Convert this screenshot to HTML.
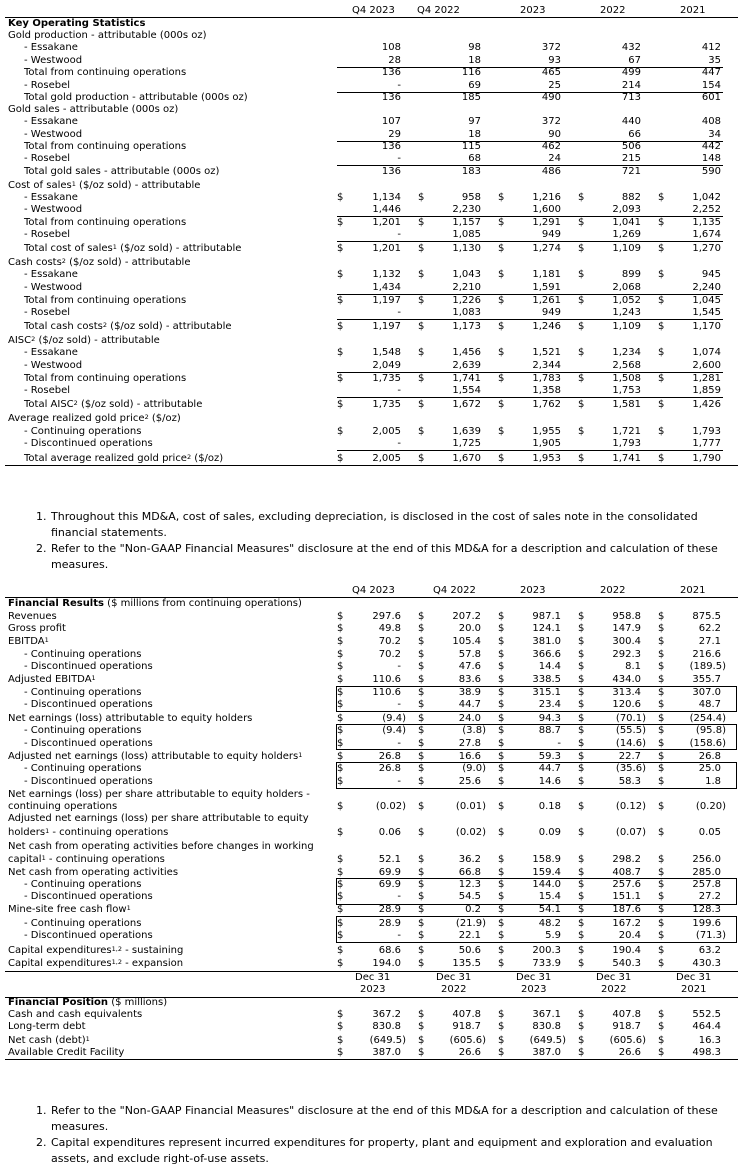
<!DOCTYPE html>
<html><head><meta charset="utf-8"><style>
body{margin:0;width:753px;height:1172px;background:#fff;position:relative;font-family:"DejaVu Sans",Verdana,sans-serif;font-size:10px;color:#000;overflow:hidden}
.r{position:absolute;left:0;width:753px;height:12px;line-height:12px}
.r span{position:absolute;white-space:nowrap}
.l{left:8px}.i{left:24px}
.a{left:337px}.b{left:418px}.c{left:498px}.d{left:578px}.e{left:658px}
.v1{right:352px}.v2{right:272px}.v3{right:192px}.v4{right:112px}.v5{right:32px}
.n{margin-right:-5px}
.h{position:absolute;height:1px;background:#000}
.bx{position:absolute;border:1px solid #000;left:336px;width:399px}
sup{font-size:6.5px;vertical-align:top;line-height:8px}
b{font-weight:bold}
.fn{position:absolute;left:36px;font-size:11px;line-height:16px;width:690px}
.fn div{position:relative;padding-left:15px}
.fn div span{position:absolute;left:0}
</style></head><body>

<div class="r" style="top:5px"><span style="left:352px">Q4 2023</span><span style="left:417px">Q4 2022</span><span style="left:520px">2023</span><span style="left:600px">2022</span><span style="left:680px">2021</span></div>
<div class="h" style="top:17px;left:5px;width:733px"></div>

<div class="r" style="top:18px"><span class="l"><b>Key Operating Statistics</b></span></div>
<div class="r" style="top:30px"><span class="l">Gold production - attributable (000s oz)</span></div>
<div class="r" style="top:42px"><span class="i">- Essakane</span><span class="v1">108</span><span class="v2">98</span><span class="v3">372</span><span class="v4">432</span><span class="v5">412</span></div>
<div class="r" style="top:55px"><span class="i">- Westwood</span><span class="v1">28</span><span class="v2">18</span><span class="v3">93</span><span class="v4">67</span><span class="v5">35</span></div>
<div class="h" style="top:67px;left:337px;width:386px"></div>
<div class="r" style="top:67px"><span class="i">Total from continuing operations</span><span class="v1">136</span><span class="v2">116</span><span class="v3">465</span><span class="v4">499</span><span class="v5">447</span></div>
<div class="r" style="top:80px"><span class="i">- Rosebel</span><span class="v1">-</span><span class="v2">69</span><span class="v3">25</span><span class="v4">214</span><span class="v5">154</span></div>
<div class="h" style="top:92px;left:337px;width:386px"></div>
<div class="r" style="top:92px"><span class="i">Total gold production - attributable (000s oz)</span><span class="v1">136</span><span class="v2">185</span><span class="v3">490</span><span class="v4">713</span><span class="v5">601</span></div>
<div class="r" style="top:104px"><span class="l">Gold sales - attributable (000s oz)</span></div>
<div class="r" style="top:116px"><span class="i">- Essakane</span><span class="v1">107</span><span class="v2">97</span><span class="v3">372</span><span class="v4">440</span><span class="v5">408</span></div>
<div class="r" style="top:129px"><span class="i">- Westwood</span><span class="v1">29</span><span class="v2">18</span><span class="v3">90</span><span class="v4">66</span><span class="v5">34</span></div>
<div class="h" style="top:141px;left:337px;width:386px"></div>
<div class="r" style="top:141px"><span class="i">Total from continuing operations</span><span class="v1">136</span><span class="v2">115</span><span class="v3">462</span><span class="v4">506</span><span class="v5">442</span></div>
<div class="r" style="top:153px"><span class="i">- Rosebel</span><span class="v1">-</span><span class="v2">68</span><span class="v3">24</span><span class="v4">215</span><span class="v5">148</span></div>
<div class="h" style="top:165px;left:337px;width:386px"></div>
<div class="r" style="top:166px"><span class="i">Total gold sales - attributable (000s oz)</span><span class="v1">136</span><span class="v2">183</span><span class="v3">486</span><span class="v4">721</span><span class="v5">590</span></div>
<div class="r" style="top:180px"><span class="l">Cost of sales<sup>1</sup> ($/oz sold) - attributable</span></div>
<div class="r" style="top:192px"><span class="i">- Essakane</span><span class="a">$</span><span class="v1">1,134</span><span class="b">$</span><span class="v2">958</span><span class="c">$</span><span class="v3">1,216</span><span class="d">$</span><span class="v4">882</span><span class="e">$</span><span class="v5">1,042</span></div>
<div class="r" style="top:204px"><span class="i">- Westwood</span><span class="v1">1,446</span><span class="v2">2,230</span><span class="v3">1,600</span><span class="v4">2,093</span><span class="v5">2,252</span></div>
<div class="h" style="top:216px;left:337px;width:386px"></div>
<div class="r" style="top:217px"><span class="i">Total from continuing operations</span><span class="a">$</span><span class="v1">1,201</span><span class="b">$</span><span class="v2">1,157</span><span class="c">$</span><span class="v3">1,291</span><span class="d">$</span><span class="v4">1,041</span><span class="e">$</span><span class="v5">1,135</span></div>
<div class="r" style="top:229px"><span class="i">- Rosebel</span><span class="v1">-</span><span class="v2">1,085</span><span class="v3">949</span><span class="v4">1,269</span><span class="v5">1,674</span></div>
<div class="h" style="top:241px;left:337px;width:386px"></div>
<div class="r" style="top:243px"><span class="i">Total cost of sales<sup>1</sup> ($/oz sold) - attributable</span><span class="a">$</span><span class="v1">1,201</span><span class="b">$</span><span class="v2">1,130</span><span class="c">$</span><span class="v3">1,274</span><span class="d">$</span><span class="v4">1,109</span><span class="e">$</span><span class="v5">1,270</span></div>
<div class="r" style="top:257px"><span class="l">Cash costs<sup>2</sup> ($/oz sold) - attributable</span></div>
<div class="r" style="top:269px"><span class="i">- Essakane</span><span class="a">$</span><span class="v1">1,132</span><span class="b">$</span><span class="v2">1,043</span><span class="c">$</span><span class="v3">1,181</span><span class="d">$</span><span class="v4">899</span><span class="e">$</span><span class="v5">945</span></div>
<div class="r" style="top:282px"><span class="i">- Westwood</span><span class="v1">1,434</span><span class="v2">2,210</span><span class="v3">1,591</span><span class="v4">2,068</span><span class="v5">2,240</span></div>
<div class="h" style="top:294px;left:337px;width:386px"></div>
<div class="r" style="top:295px"><span class="i">Total from continuing operations</span><span class="a">$</span><span class="v1">1,197</span><span class="b">$</span><span class="v2">1,226</span><span class="c">$</span><span class="v3">1,261</span><span class="d">$</span><span class="v4">1,052</span><span class="e">$</span><span class="v5">1,045</span></div>
<div class="r" style="top:307px"><span class="i">- Rosebel</span><span class="v1">-</span><span class="v2">1,083</span><span class="v3">949</span><span class="v4">1,243</span><span class="v5">1,545</span></div>
<div class="h" style="top:319px;left:337px;width:386px"></div>
<div class="r" style="top:321px"><span class="i">Total cash costs<sup>2</sup> ($/oz sold) - attributable</span><span class="a">$</span><span class="v1">1,197</span><span class="b">$</span><span class="v2">1,173</span><span class="c">$</span><span class="v3">1,246</span><span class="d">$</span><span class="v4">1,109</span><span class="e">$</span><span class="v5">1,170</span></div>
<div class="r" style="top:335px"><span class="l">AISC<sup>2</sup> ($/oz sold) - attributable</span></div>
<div class="r" style="top:347px"><span class="i">- Essakane</span><span class="a">$</span><span class="v1">1,548</span><span class="b">$</span><span class="v2">1,456</span><span class="c">$</span><span class="v3">1,521</span><span class="d">$</span><span class="v4">1,234</span><span class="e">$</span><span class="v5">1,074</span></div>
<div class="r" style="top:360px"><span class="i">- Westwood</span><span class="v1">2,049</span><span class="v2">2,639</span><span class="v3">2,344</span><span class="v4">2,568</span><span class="v5">2,600</span></div>
<div class="h" style="top:372px;left:337px;width:386px"></div>
<div class="r" style="top:373px"><span class="i">Total from continuing operations</span><span class="a">$</span><span class="v1">1,735</span><span class="b">$</span><span class="v2">1,741</span><span class="c">$</span><span class="v3">1,783</span><span class="d">$</span><span class="v4">1,508</span><span class="e">$</span><span class="v5">1,281</span></div>
<div class="r" style="top:385px"><span class="i">- Rosebel</span><span class="v1">-</span><span class="v2">1,554</span><span class="v3">1,358</span><span class="v4">1,753</span><span class="v5">1,859</span></div>
<div class="h" style="top:397px;left:337px;width:386px"></div>
<div class="r" style="top:399px"><span class="i">Total AISC<sup>2</sup> ($/oz sold) - attributable</span><span class="a">$</span><span class="v1">1,735</span><span class="b">$</span><span class="v2">1,672</span><span class="c">$</span><span class="v3">1,762</span><span class="d">$</span><span class="v4">1,581</span><span class="e">$</span><span class="v5">1,426</span></div>
<div class="r" style="top:413px"><span class="l">Average realized gold price<sup>2</sup> ($/oz)</span></div>
<div class="r" style="top:426px"><span class="i">- Continuing operations</span><span class="a">$</span><span class="v1">2,005</span><span class="b">$</span><span class="v2">1,639</span><span class="c">$</span><span class="v3">1,955</span><span class="d">$</span><span class="v4">1,721</span><span class="e">$</span><span class="v5">1,793</span></div>
<div class="r" style="top:438px"><span class="i">- Discontinued operations</span><span class="v1">-</span><span class="v2">1,725</span><span class="v3">1,905</span><span class="v4">1,793</span><span class="v5">1,777</span></div>
<div class="h" style="top:450px;left:337px;width:386px"></div>
<div class="r" style="top:453px"><span class="i">Total average realized gold price<sup>2</sup> ($/oz)</span><span class="a">$</span><span class="v1">2,005</span><span class="b">$</span><span class="v2">1,670</span><span class="c">$</span><span class="v3">1,953</span><span class="d">$</span><span class="v4">1,741</span><span class="e">$</span><span class="v5">1,790</span></div>
<div class="h" style="top:465px;left:5px;width:733px"></div>

<div class="fn" style="top:509px">
<div><span>1.</span>Throughout this MD&amp;A, cost of sales, excluding depreciation, is disclosed in the cost of sales note in the consolidated financial statements.</div>
<div><span>2.</span>Refer to the "Non-GAAP Financial Measures" disclosure at the end of this MD&amp;A for a description and calculation of these measures.</div>
</div>

<div class="r" style="top:585px"><span style="left:352px">Q4 2023</span><span style="left:433px">Q4 2022</span><span style="left:520px">2023</span><span style="left:600px">2022</span><span style="left:680px">2021</span></div>
<div class="h" style="top:597px;left:5px;width:733px"></div>
<div class="r" style="top:598px"><span class="l"><b>Financial Results</b> ($ millions from continuing operations)</span></div>
<div class="r" style="top:611px"><span class="l">Revenues</span><span class="a">$</span><span class="v1">297.6</span><span class="b">$</span><span class="v2">207.2</span><span class="c">$</span><span class="v3">987.1</span><span class="d">$</span><span class="v4">958.8</span><span class="e">$</span><span class="v5">875.5</span></div>
<div class="r" style="top:623px"><span class="l">Gross profit</span><span class="a">$</span><span class="v1">49.8</span><span class="b">$</span><span class="v2">20.0</span><span class="c">$</span><span class="v3">124.1</span><span class="d">$</span><span class="v4">147.9</span><span class="e">$</span><span class="v5">62.2</span></div>
<div class="r" style="top:636px"><span class="l">EBITDA<sup>1</sup></span><span class="a">$</span><span class="v1">70.2</span><span class="b">$</span><span class="v2">105.4</span><span class="c">$</span><span class="v3">381.0</span><span class="d">$</span><span class="v4">300.4</span><span class="e">$</span><span class="v5">27.1</span></div>
<div class="r" style="top:649px"><span class="i">- Continuing operations</span><span class="a">$</span><span class="v1">70.2</span><span class="b">$</span><span class="v2">57.8</span><span class="c">$</span><span class="v3">366.6</span><span class="d">$</span><span class="v4">292.3</span><span class="e">$</span><span class="v5">216.6</span></div>
<div class="r" style="top:661px"><span class="i">- Discontinued operations</span><span class="a">$</span><span class="v1">-</span><span class="b">$</span><span class="v2">47.6</span><span class="c">$</span><span class="v3">14.4</span><span class="d">$</span><span class="v4">8.1</span><span class="e">$</span><span class="v5 n">(189.5)</span></div>
<div class="r" style="top:674px"><span class="l">Adjusted EBITDA<sup>1</sup></span><span class="a">$</span><span class="v1">110.6</span><span class="b">$</span><span class="v2">83.6</span><span class="c">$</span><span class="v3">338.5</span><span class="d">$</span><span class="v4">434.0</span><span class="e">$</span><span class="v5">355.7</span></div>
<div class="bx" style="top:686px;height:24px"></div>
<div class="r" style="top:687px"><span class="i">- Continuing operations</span><span class="a">$</span><span class="v1">110.6</span><span class="b">$</span><span class="v2">38.9</span><span class="c">$</span><span class="v3">315.1</span><span class="d">$</span><span class="v4">313.4</span><span class="e">$</span><span class="v5">307.0</span></div>
<div class="r" style="top:699px"><span class="i">- Discontinued operations</span><span class="a">$</span><span class="v1">-</span><span class="b">$</span><span class="v2">44.7</span><span class="c">$</span><span class="v3">23.4</span><span class="d">$</span><span class="v4">120.6</span><span class="e">$</span><span class="v5">48.7</span></div>
<div class="r" style="top:713px"><span class="l">Net earnings (loss) attributable to equity holders</span><span class="a">$</span><span class="v1 n">(9.4)</span><span class="b">$</span><span class="v2">24.0</span><span class="c">$</span><span class="v3">94.3</span><span class="d">$</span><span class="v4 n">(70.1)</span><span class="e">$</span><span class="v5 n">(254.4)</span></div>
<div class="bx" style="top:724px;height:24px"></div>
<div class="r" style="top:725px"><span class="i">- Continuing operations</span><span class="a">$</span><span class="v1 n">(9.4)</span><span class="b">$</span><span class="v2 n">(3.8)</span><span class="c">$</span><span class="v3">88.7</span><span class="d">$</span><span class="v4 n">(55.5)</span><span class="e">$</span><span class="v5 n">(95.8)</span></div>
<div class="r" style="top:738px"><span class="i">- Discontinued operations</span><span class="a">$</span><span class="v1">-</span><span class="b">$</span><span class="v2">27.8</span><span class="c">$</span><span class="v3">-</span><span class="d">$</span><span class="v4 n">(14.6)</span><span class="e">$</span><span class="v5 n">(158.6)</span></div>
<div class="r" style="top:751px"><span class="l">Adjusted net earnings (loss) attributable to equity holders<sup>1</sup></span><span class="a">$</span><span class="v1">26.8</span><span class="b">$</span><span class="v2">16.6</span><span class="c">$</span><span class="v3">59.3</span><span class="d">$</span><span class="v4">22.7</span><span class="e">$</span><span class="v5">26.8</span></div>
<div class="bx" style="top:762px;height:25px"></div>
<div class="r" style="top:763px"><span class="i">- Continuing operations</span><span class="a">$</span><span class="v1">26.8</span><span class="b">$</span><span class="v2 n">(9.0)</span><span class="c">$</span><span class="v3">44.7</span><span class="d">$</span><span class="v4 n">(35.6)</span><span class="e">$</span><span class="v5">25.0</span></div>
<div class="r" style="top:776px"><span class="i">- Discontinued operations</span><span class="a">$</span><span class="v1">-</span><span class="b">$</span><span class="v2">25.6</span><span class="c">$</span><span class="v3">14.6</span><span class="d">$</span><span class="v4">58.3</span><span class="e">$</span><span class="v5">1.8</span></div>
<div class="r" style="top:789px"><span class="l">Net earnings (loss) per share attributable to equity holders -</span></div>
<div class="r" style="top:801px"><span class="l">continuing operations</span><span class="a">$</span><span class="v1 n">(0.02)</span><span class="b">$</span><span class="v2 n">(0.01)</span><span class="c">$</span><span class="v3">0.18</span><span class="d">$</span><span class="v4 n">(0.12)</span><span class="e">$</span><span class="v5 n">(0.20)</span></div>
<div class="r" style="top:813px"><span class="l">Adjusted net earnings (loss) per share attributable to equity</span></div>
<div class="r" style="top:827px"><span class="l">holders<sup>1</sup> - continuing operations</span><span class="a">$</span><span class="v1">0.06</span><span class="b">$</span><span class="v2 n">(0.02)</span><span class="c">$</span><span class="v3">0.09</span><span class="d">$</span><span class="v4 n">(0.07)</span><span class="e">$</span><span class="v5">0.05</span></div>
<div class="r" style="top:841px"><span class="l">Net cash from operating activities before changes in working</span></div>
<div class="r" style="top:854px"><span class="l">capital<sup>1</sup> - continuing operations</span><span class="a">$</span><span class="v1">52.1</span><span class="b">$</span><span class="v2">36.2</span><span class="c">$</span><span class="v3">158.9</span><span class="d">$</span><span class="v4">298.2</span><span class="e">$</span><span class="v5">256.0</span></div>
<div class="r" style="top:867px"><span class="l">Net cash from operating activities</span><span class="a">$</span><span class="v1">69.9</span><span class="b">$</span><span class="v2">66.8</span><span class="c">$</span><span class="v3">159.4</span><span class="d">$</span><span class="v4">408.7</span><span class="e">$</span><span class="v5">285.0</span></div>
<div class="bx" style="top:878px;height:25px"></div>
<div class="r" style="top:879px"><span class="i">- Continuing operations</span><span class="a">$</span><span class="v1">69.9</span><span class="b">$</span><span class="v2">12.3</span><span class="c">$</span><span class="v3">144.0</span><span class="d">$</span><span class="v4">257.6</span><span class="e">$</span><span class="v5">257.8</span></div>
<div class="r" style="top:891px"><span class="i">- Discontinued operations</span><span class="a">$</span><span class="v1">-</span><span class="b">$</span><span class="v2">54.5</span><span class="c">$</span><span class="v3">15.4</span><span class="d">$</span><span class="v4">151.1</span><span class="e">$</span><span class="v5">27.2</span></div>
<div class="r" style="top:904px"><span class="l">Mine-site free cash flow<sup>1</sup></span><span class="a">$</span><span class="v1">28.9</span><span class="b">$</span><span class="v2">0.2</span><span class="c">$</span><span class="v3">54.1</span><span class="d">$</span><span class="v4">187.6</span><span class="e">$</span><span class="v5">128.3</span></div>
<div class="bx" style="top:916px;height:25px"></div>
<div class="r" style="top:918px"><span class="i">- Continuing operations</span><span class="a">$</span><span class="v1">28.9</span><span class="b">$</span><span class="v2 n">(21.9)</span><span class="c">$</span><span class="v3">48.2</span><span class="d">$</span><span class="v4">167.2</span><span class="e">$</span><span class="v5">199.6</span></div>
<div class="r" style="top:930px"><span class="i">- Discontinued operations</span><span class="a">$</span><span class="v1">-</span><span class="b">$</span><span class="v2">22.1</span><span class="c">$</span><span class="v3">5.9</span><span class="d">$</span><span class="v4">20.4</span><span class="e">$</span><span class="v5 n">(71.3)</span></div>
<div class="r" style="top:945px"><span class="l">Capital expenditures<sup>1,2</sup> - sustaining</span><span class="a">$</span><span class="v1">68.6</span><span class="b">$</span><span class="v2">50.6</span><span class="c">$</span><span class="v3">200.3</span><span class="d">$</span><span class="v4">190.4</span><span class="e">$</span><span class="v5">63.2</span></div>
<div class="r" style="top:958px"><span class="l">Capital expenditures<sup>1,2</sup> - expansion</span><span class="a">$</span><span class="v1">194.0</span><span class="b">$</span><span class="v2">135.5</span><span class="c">$</span><span class="v3">733.9</span><span class="d">$</span><span class="v4">540.3</span><span class="e">$</span><span class="v5">430.3</span></div>
<div class="h" style="top:971px;left:5px;width:733px"></div>
<div class="r" style="top:972px"><span style="left:355px">Dec 31</span><span style="left:436px">Dec 31</span><span style="left:516px">Dec 31</span><span style="left:596px">Dec 31</span><span style="left:676px">Dec 31</span></div>
<div class="r" style="top:984px"><span style="left:360px">2023</span><span style="left:441px">2022</span><span style="left:521px">2023</span><span style="left:601px">2022</span><span style="left:681px">2021</span></div>
<div class="h" style="top:997px;left:5px;width:733px"></div>
<div class="r" style="top:997px"><span class="l"><b>Financial Position</b> ($ millions)</span></div>
<div class="r" style="top:1009px"><span class="l">Cash and cash equivalents</span><span class="a">$</span><span class="v1">367.2</span><span class="b">$</span><span class="v2">407.8</span><span class="c">$</span><span class="v3">367.1</span><span class="d">$</span><span class="v4">407.8</span><span class="e">$</span><span class="v5">552.5</span></div>
<div class="r" style="top:1021px"><span class="l">Long-term debt</span><span class="a">$</span><span class="v1">830.8</span><span class="b">$</span><span class="v2">918.7</span><span class="c">$</span><span class="v3">830.8</span><span class="d">$</span><span class="v4">918.7</span><span class="e">$</span><span class="v5">464.4</span></div>
<div class="r" style="top:1035px"><span class="l">Net cash (debt)<sup>1</sup></span><span class="a">$</span><span class="v1 n">(649.5)</span><span class="b">$</span><span class="v2 n">(605.6)</span><span class="c">$</span><span class="v3 n">(649.5)</span><span class="d">$</span><span class="v4 n">(605.6)</span><span class="e">$</span><span class="v5">16.3</span></div>
<div class="r" style="top:1047px"><span class="l">Available Credit Facility</span><span class="a">$</span><span class="v1">387.0</span><span class="b">$</span><span class="v2">26.6</span><span class="c">$</span><span class="v3">387.0</span><span class="d">$</span><span class="v4">26.6</span><span class="e">$</span><span class="v5">498.3</span></div>
<div class="h" style="top:1059px;left:5px;width:733px"></div>

<div class="fn" style="top:1103px">
<div><span>1.</span>Refer to the "Non-GAAP Financial Measures" disclosure at the end of this MD&amp;A for a description and calculation of these measures.</div>
<div><span>2.</span>Capital expenditures represent incurred expenditures for property, plant and equipment and exploration and evaluation assets, and exclude right-of-use assets.</div>
</div>
</body></html>
